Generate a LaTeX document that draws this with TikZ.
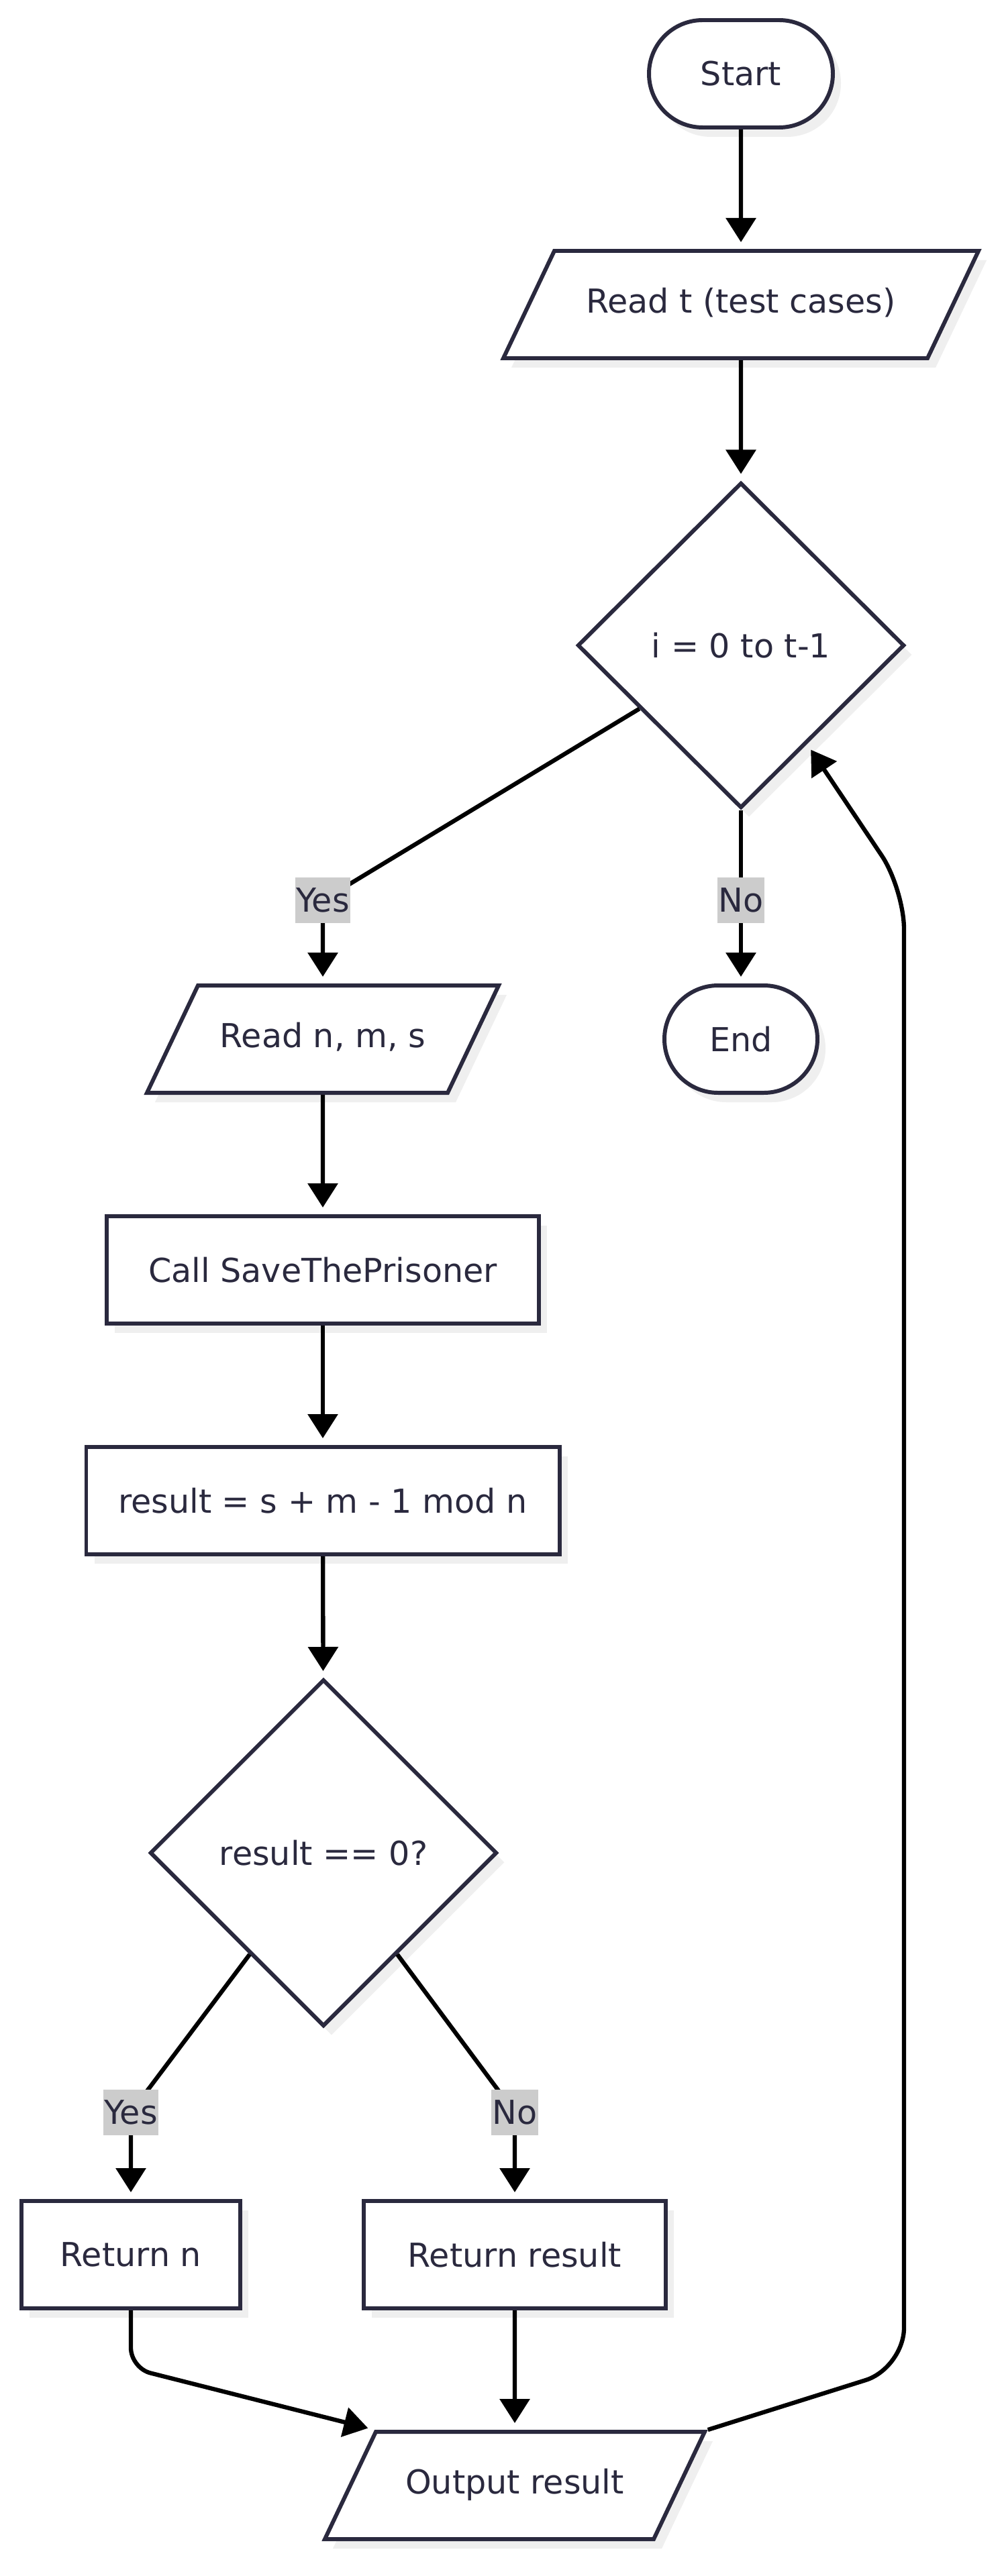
\documentclass[tikz,border=0pt]{standalone}
\usepackage{fontspec}
\setmainfont{DejaVu Sans}
\usepackage{tikz}
\usetikzlibrary{
  arrows.meta,
  shapes.geometric,
  shadows,
  positioning
}
\usepackage{xcolor}
\definecolor{nodeline}{RGB}{42,41,62}
\definecolor{shadowgray}{RGB}{239,239,239}
\definecolor{labelgray}{RGB}{204,204,204}
\tikzset{
  base box/.style={
    draw=nodeline, line width=1.7pt, fill=white, text=nodeline,
    drop shadow={shadow xshift=0.12cm, shadow yshift=-0.14cm,
      fill=shadowgray, opacity=1},
    inner sep=0pt, align=center
  },
  terminal/.style={
    base box, rectangle, rounded corners=0.8cm,
    minimum height=1.6cm
  },
  process/.style={
    base box, rectangle, minimum height=1.6cm
  },
  io/.style={
    base box, trapezium, trapezium left angle=64.6,
    trapezium right angle=115.4, trapezium stretches body,
    text height=0.35cm, text depth=0.1cm, inner ysep=0.575cm
  },
  decision/.style={
    base box, diamond, aspect=1
  },
  flow/.style={
    -{Triangle[length=0.36cm, width=0.44cm]}, line width=1.8pt,
    draw=black, rounded corners=0.3cm, shorten >=0.1cm
  },
  edge label/.style={
    fill=labelgray, text=nodeline, inner xsep=0.5pt, inner ysep=0pt,
    minimum height=0.68cm
  },
}

\begin{document}
\begin{tikzpicture}[font=\fontsize{14pt}{17pt}\selectfont]

  % Canvas
  \fill[white] (0,0) rectangle (14.96,-38.40);
  \useasboundingbox (0,0) rectangle (14.96,-38.40);

  % Outer loop
  \node[terminal, minimum width=2.74cm] (start) at (11.04,-1.10) {Start};
  \node[io, minimum width=7.08cm] (readt) at (11.04,-4.54)
    {Read t (test cases)};
  \node[decision, minimum width=4.87cm, minimum height=4.85cm]
    (loop) at (11.04,-9.62) {i = 0 to t-1};
  \node[terminal, minimum width=2.28cm] (finish) at (11.04,-15.49) {End};

  % Loop body
  \node[io, minimum width=5.24cm] (readn) at (4.81,-15.49) {Read n, m, s};
  \node[process, minimum width=6.44cm] (call) at (4.81,-18.93)
    {Call SaveThePrisoner};
  \node[process, minimum width=7.05cm] (calc) at (4.81,-22.37)
    {result = s + m - 1 mod n};
  \node[decision, minimum width=5.17cm, minimum height=5.17cm]
    (check) at (4.82,-27.62) {result == 0?};
  \node[process, minimum width=3.26cm] (retn) at (1.95,-33.61) {Return n};
  \node[process, minimum width=4.50cm] (retres) at (7.67,-33.61)
    {Return result};
  \node[io, minimum width=5.66cm] (output) at (7.67,-37.05) {Output result};

  % Bends
  \coordinate (yesloop) at (4.81,-13.42);
  \coordinate (noloop) at (11.04,-13.42);
  \coordinate (yescheck) at (1.95,-31.49);
  \coordinate (nocheck) at (7.67,-31.49);
  \coordinate (retbend) at (1.95,-35.30);
  \coordinate (backlow) at (13.47,-35.30);
  \coordinate (backhigh) at (13.47,-13.25);

  % Arrows
  \draw[flow] (start) -- (readt);
  \draw[flow] (readt) -- (loop);
  \draw[flow] (loop.212) -- (yesloop) -- (readn);
  \draw[flow] (loop) -- (finish);
  \draw[flow] (readn) -- (call);
  \draw[flow] (call) -- (calc);
  \draw[flow] (calc) -- (check);
  \draw[flow] (check.234) -- (yescheck) -- (retn);
  \draw[flow] (check.306) -- (nocheck) -- (retres);
  \draw[flow] (retn) -- (retbend) -- (output.top left corner);
  \draw[flow] (retres) -- (output);
  \draw[flow, rounded corners=0.6cm] (output.top right corner) -- (backlow)
    -- (backhigh) -- (loop);

  % Edge labels
  \node[edge label] (lyesloop) at (yesloop) {Yes};
  \node[edge label] (lnoloop) at (noloop) {No};
  \node[edge label] (lyescheck) at (yescheck) {Yes};
  \node[edge label] (lnocheck) at (nocheck) {No};

\end{tikzpicture}
\end{document}
